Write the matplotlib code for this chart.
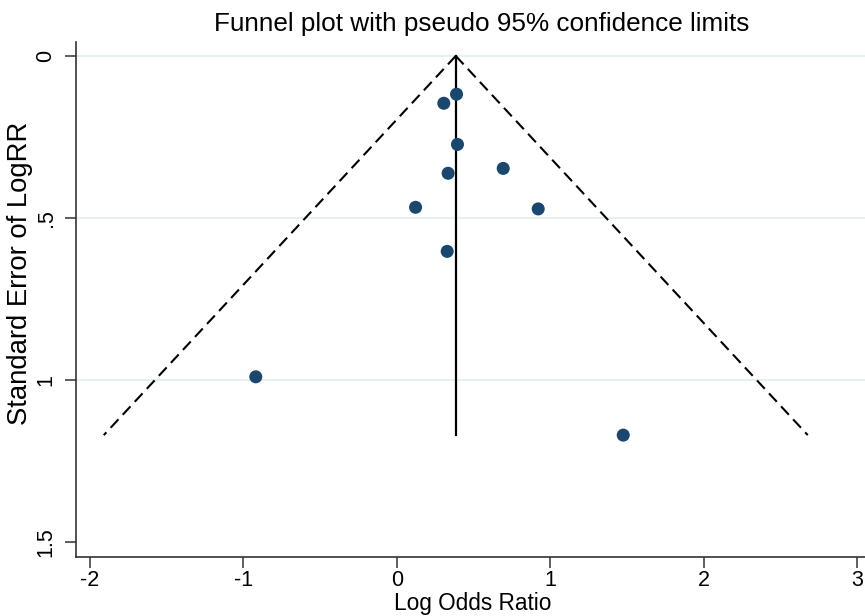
#!/usr/bin/env python3

import numpy as np
import matplotlib.pyplot as plt

# estudios: log odds ratio y error estandar
log_or = [0.389, 0.306, 0.395, 0.693, 0.334, 0.122, 0.921, 0.328, -0.919, 1.475]
se = [0.118, 0.146, 0.273, 0.347, 0.362, 0.467, 0.472, 0.603, 0.990, 1.170]

pooled = 0.384
se_max = 1.17
z = 1.96

x_ticks = [-2, -1, 0, 1, 2, 3]
y_ticks = [0, 0.5, 1, 1.5]
y_labels = ["0", ".5", "1", "1.5"]

plt.rcParams["font.family"] = ["Liberation Sans", "DejaVu Sans"]
plt.rcParams["axes.unicode_minus"] = False

fig = plt.figure(figsize=(8.65, 6.16), dpi=100)
ax = fig.add_axes([0.0879, 0.0958, 0.9121, 0.836])

for y in [0, 0.5, 1]:
    ax.axhline(y, color="#e4eff0", linewidth=1.3, zorder=0)

# limites del embudo
se_line = np.array([0, se_max])
ax.plot(pooled - z * se_line, se_line, color="black", linewidth=1.5,
        dashes=(5.5, 3), zorder=2)
ax.plot(pooled + z * se_line, se_line, color="black", linewidth=1.5,
        dashes=(5.5, 3), zorder=2)
ax.plot([pooled, pooled], [0, se_max], color="black", linewidth=1.6, zorder=2)

ax.scatter(log_or, se, s=88, color="#1a476f", edgecolors="none", zorder=3)

ax.set_xlim(-2.09, 3.05)
ax.set_ylim(1.546, -0.043)
ax.set_xticks(x_ticks)
ax.set_xticklabels([str(t) for t in x_ticks])
ax.set_yticks(y_ticks)
ax.set_yticklabels(y_labels, rotation=90, va="center")

ax.tick_params(axis="both", direction="out", length=8, width=1.1,
               labelsize=15.5, color="#333333", pad=1.5)
ax.tick_params(axis="y", pad=6)
ax.spines["top"].set_visible(False)
ax.spines["right"].set_visible(False)
for s in ["left", "bottom"]:
    ax.spines[s].set_color("#333333")
    ax.spines[s].set_linewidth(1.2)

ax.set_xlabel("Log Odds Ratio", fontsize=16.3)
ax.xaxis.set_label_coords(0.503, -0.068)
ax.set_ylabel("Standard Error of LogRR", fontsize=19.8)
ax.yaxis.set_label_coords(-0.054, 0.55)
fig.suptitle("Funnel plot with pseudo 95% confidence limits", fontsize=18.8,
             x=0.557, y=0.98)

fig.savefig("out.png", dpi=100)
plt.close(fig)
